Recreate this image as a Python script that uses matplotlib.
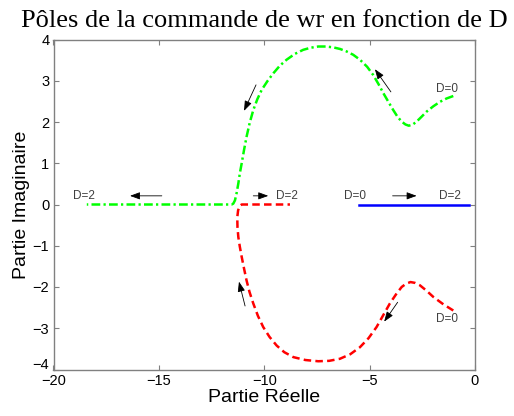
import matplotlib
matplotlib.use("Agg")
import matplotlib.pyplot as plt
from matplotlib.transforms import ScaledTranslation

# ---------------- data ----------------
green_x = [-1.03, -1.35, -1.66, -1.98, -2.30, -2.55, -2.77, -2.95, -3.14, -3.30,
           -3.48, -3.68, -3.88, -4.10, -4.35, -4.58, -4.83, -5.12, -5.46, -5.78,
           -6.09, -6.40, -6.73, -7.08, -7.44, -7.80, -8.15, -8.55, -8.94, -9.27,
           -9.57, -9.85, -10.12, -10.33, -10.52, -10.69, -10.84, -10.96, -11.07,
           -11.16, -11.23, -11.31, -11.39, -11.47, -11.55, -18.42]
green_y = [2.63, 2.57, 2.49, 2.38, 2.25, 2.12, 2.01, 1.94, 1.91, 1.94,
           2.01, 2.13, 2.29, 2.48, 2.70, 2.92, 3.14, 3.34, 3.51, 3.63,
           3.71, 3.77, 3.81, 3.83, 3.83, 3.80, 3.75, 3.65, 3.51, 3.36,
           3.18, 2.99, 2.78, 2.55, 2.29, 1.98, 1.64, 1.32, 1.00,
           0.75, 0.51, 0.28, 0.10, 0.02, 0.00, 0.00]

red_x = [-1.03, -1.50, -1.98, -2.30, -2.61, -2.85, -3.06, -3.27, -3.48, -3.75,
         -4.04, -4.35, -4.67, -5.05, -5.46, -5.92, -6.41, -6.92, -7.44, -8.05,
         -8.62, -9.05, -9.41, -9.75, -10.05, -10.30, -10.52, -10.70, -10.84,
         -10.96, -11.07, -11.16, -11.23, -11.27, -11.28, -11.24, -11.15, -11.07, -8.78]
red_y = [-2.57, -2.42, -2.24, -2.09, -1.96, -1.90, -1.88, -1.92, -2.00, -2.18,
         -2.40, -2.68, -2.97, -3.24, -3.46, -3.63, -3.74, -3.79, -3.80, -3.77,
         -3.70, -3.58, -3.42, -3.21, -2.97, -2.70, -2.40, -2.12, -1.84,
         -1.55, -1.27, -1.02, -0.79, -0.55, -0.31, -0.14, -0.03, 0.00, 0.00]

blue_x = [-5.49, -0.30]
blue_y = [0.0, 0.0]

labels = ["D=2", "D=2", "D=0", "D=2", "D=0", "D=0"]
label_x = [-19.09, -9.44, -6.20, -1.71, -1.85, -1.85]
label_y = [0.21, 0.21, 0.21, 0.21, 2.79, -2.77]

# arrows: (tail_x, tail_y, head_x, head_y)
arrow_tail_x = [-14.86, -10.52, -3.91, -3.99, -10.39, -10.91, -3.67]
arrow_tail_y = [0.21, 0.21, 0.21, 2.73, 2.90, -2.46, -2.37]
arrow_head_x = [-16.37, -9.81, -2.77, -4.75, -10.96, -11.20, -4.31]
arrow_head_y = [0.21, 0.21, 0.21, 3.28, 2.27, -1.87, -2.84]

xticks = [-20, -15, -10, -5, 0]
yticks = [-4, -3, -2, -1, 0, 1, 2, 3, 4]

# ---------------- figure ----------------
plt.rcParams['font.family'] = ['Liberation Sans', 'DejaVu Sans']
fig = plt.figure(figsize=(5.14, 4.16), dpi=100)
ax = fig.add_axes([53.5 / 514, 1 - 369.5 / 416, (475 - 53.5) / 514, (369.5 - 39.5) / 416])

lw = 1.8
ax.plot(green_x, green_y, color='#00ff00', lw=lw, linestyle=(0, (3.5, 1.3, 0.9, 1.3)))
ax.plot(red_x, red_y, color='#ff0000', lw=lw, linestyle=(0, (3, 1.7)))
ax.plot(blue_x, blue_y, color='#0000ff', lw=lw, linestyle='-')

for t, x, y in zip(labels, label_x, label_y):
    ax.text(x, y, t, fontsize=8.5, color='#404040', ha='left', va='center')

for tx, ty, hx, hy in zip(arrow_tail_x, arrow_tail_y, arrow_head_x, arrow_head_y):
    ax.annotate('', xy=(hx, hy), xytext=(tx, ty),
                arrowprops=dict(arrowstyle='-|>,head_length=0.6,head_width=0.22',
                                color='black', lw=0.6, shrinkA=0, shrinkB=0))

ax.set_xlim(-20, 0)
ax.set_ylim(-4, 4)
ax.set_xticks(xticks)
ax.set_yticks(yticks)
ax.tick_params(direction='in', length=3.5, width=0.8, color='#808080',
               top=True, right=True, labelsize=10.5, pad=3)
for s in ax.spines.values():
    s.set_color('#808080')
    s.set_linewidth(1.0)

# raise the lowest y tick label slightly (as in the reference)
fig.canvas.draw()
lab0 = ax.get_yticklabels()[0]
lab0.set_transform(lab0.get_transform() + ScaledTranslation(0, 4 / 72, fig.dpi_scale_trans))

ax.set_xlabel('Partie Réelle', fontsize=14, labelpad=1)
ax.set_ylabel('Partie Imaginaire', fontsize=14, labelpad=2)
ax.set_title('Pôles de la commande de wr en fonction de D',
             fontsize=19, family=['Liberation Serif', 'DejaVu Serif'], pad=9)

fig.savefig('out.png', dpi=100)
